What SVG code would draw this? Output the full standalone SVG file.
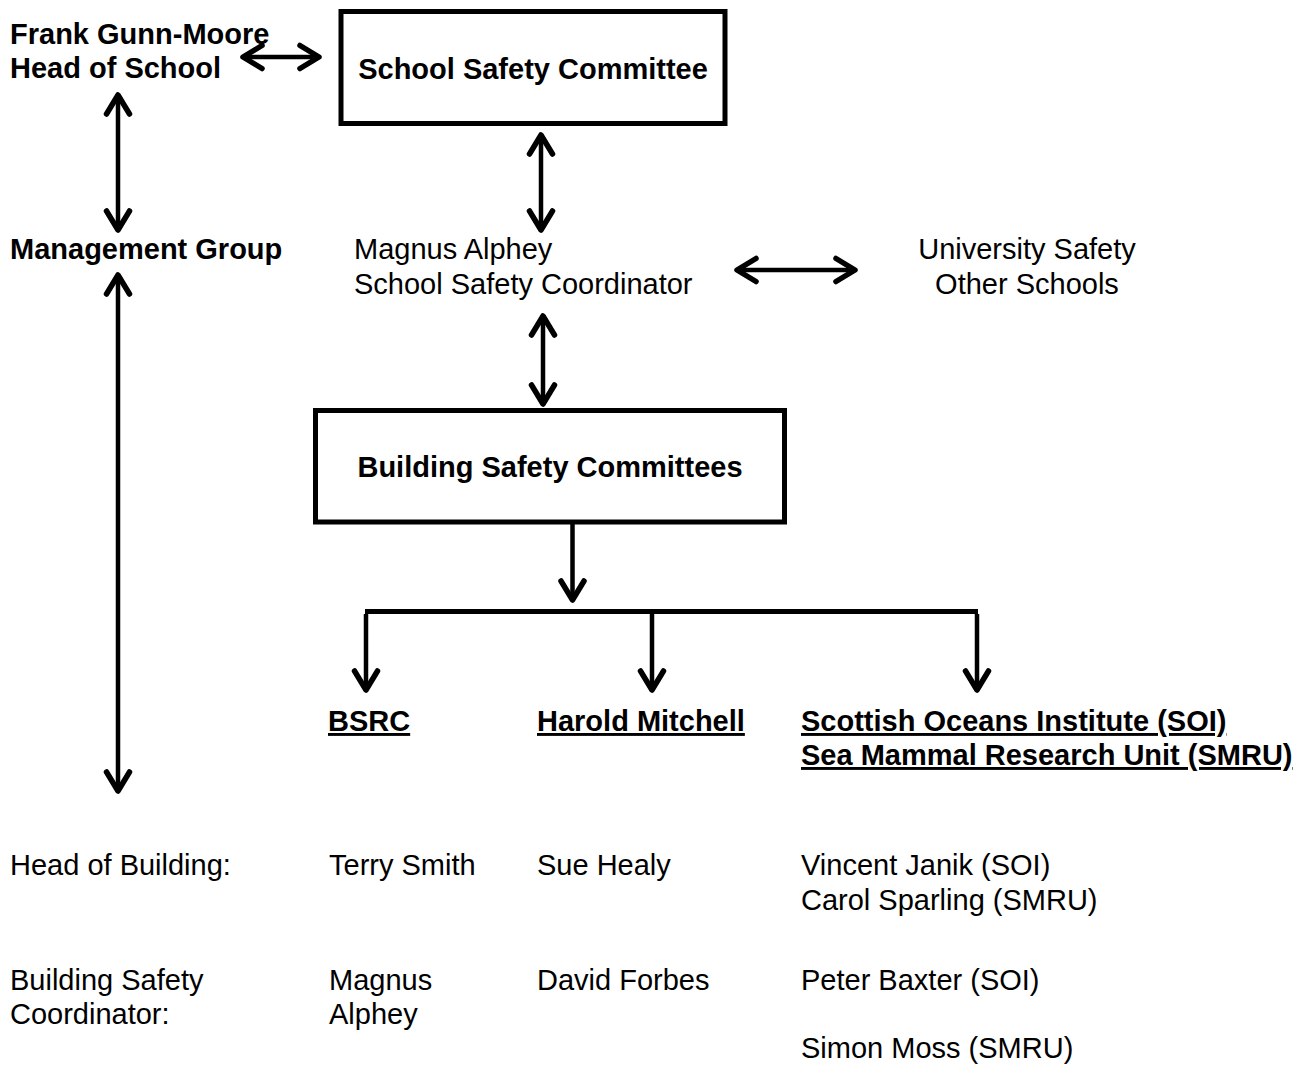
<svg xmlns="http://www.w3.org/2000/svg" width="1306" height="1065" viewBox="0 0 1306 1065">
<style>
text{font-family:"Liberation Sans",Arial,sans-serif;font-size:29px;fill:#000}
.b{font-weight:bold}
.u{text-decoration:underline}
.box{fill:#fff;stroke:#000;stroke-width:5}
.c{stroke:#000;stroke-width:4.5;fill:none}
.ar{marker-start:url(#h);marker-end:url(#h)}
.ae{marker-end:url(#h)}
</style>
<defs>
<marker id="h" markerUnits="userSpaceOnUse" viewBox="-26 -16 30 32" refX="0" refY="0" markerWidth="30" markerHeight="32" orient="auto-start-reverse">
<path d="M-19 -11.5 L0 0 L-19 11.5" fill="none" stroke="#000" stroke-width="5.5" stroke-linecap="round" stroke-linejoin="round"/>
</marker>
</defs>
<g id="head">
<text class="b" x="10" y="44">Frank Gunn-Moore</text>
<text class="b" x="10" y="78">Head of School</text>
</g>
<g id="ssc">
<rect class="box" x="341" y="11.5" width="384" height="112"/>
<text class="b" x="533" y="79" text-anchor="middle">School Safety Committee</text>
</g>
<g id="mgmt">
<text class="b" x="10" y="259">Management Group</text>
</g>
<g id="coord">
<text x="354" y="259">Magnus Alphey</text>
<text x="354" y="294">School Safety Coordinator</text>
</g>
<g id="univ">
<text x="1027" y="259" text-anchor="middle">University Safety</text>
<text x="1027" y="294" text-anchor="middle">Other Schools</text>
</g>
<g id="bsc">
<rect class="box" x="315.5" y="410.5" width="469" height="111.5"/>
<text class="b" x="550" y="477" text-anchor="middle">Building Safety Committees</text>
</g>
<g id="bsrc">
<text class="b u" x="328" y="731">BSRC</text>
<text x="329" y="875">Terry Smith</text>
<text x="329" y="990">Magnus</text>
<text x="329" y="1024">Alphey</text>
</g>
<g id="harold">
<text class="b u" x="537" y="731">Harold Mitchell</text>
<text x="537" y="875">Sue Healy</text>
<text x="537" y="990">David Forbes</text>
</g>
<g id="soi">
<text class="b u" x="801" y="731">Scottish Oceans Institute (SOI)</text>
<text class="b u" x="801" y="765">Sea Mammal Research Unit (SMRU)</text>
<text x="801" y="875">Vincent Janik (SOI)</text>
<text x="801" y="910">Carol Sparling (SMRU)</text>
<text x="801" y="990">Peter Baxter (SOI)</text>
<text x="801" y="1058">Simon Moss (SMRU)</text>
</g>
<g id="labels">
<text x="10" y="875">Head of Building:</text>
<text x="10" y="990">Building Safety</text>
<text x="10" y="1024">Coordinator:</text>
</g>
<g id="connectors">
<line class="c ar" x1="243" y1="57" x2="319" y2="57"/>
<line class="c ar" x1="118" y1="95" x2="118" y2="230"/>
<line class="c ar" x1="541" y1="135" x2="541" y2="230"/>
<line class="c ar" x1="737" y1="270" x2="855" y2="270"/>
<line class="c ar" x1="543" y1="316" x2="543" y2="404"/>
<line class="c ar" x1="118" y1="275" x2="118" y2="791"/>
<line class="c ae" x1="572.5" y1="524" x2="572.5" y2="600"/>
<line class="c" x1="365" y1="611.5" x2="978" y2="611.5" style="stroke-width:5"/>
<line class="c ae" x1="366" y1="614" x2="366" y2="690"/>
<line class="c ae" x1="652" y1="614" x2="652" y2="690"/>
<line class="c ae" x1="977" y1="614" x2="977" y2="690"/>
</g>
</svg>
